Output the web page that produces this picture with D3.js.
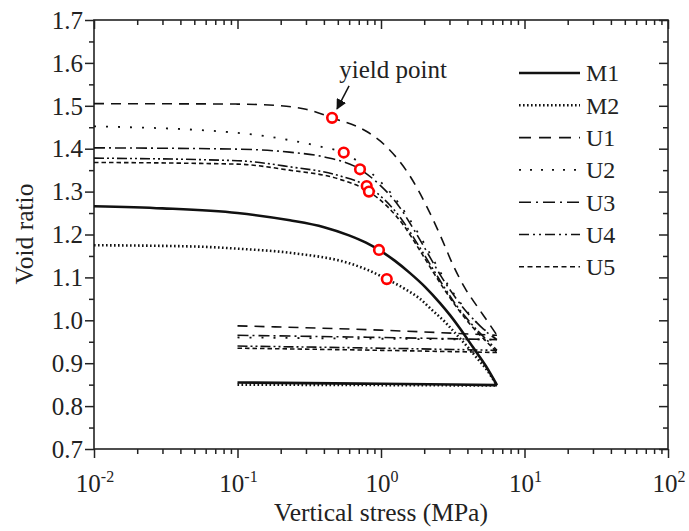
<!DOCTYPE html>
<html><head><meta charset="utf-8">
<script src="https://cdn.jsdelivr.net/npm/d3@7/dist/d3.min.js"></script>
<style>body{margin:0;background:#fff}svg{display:block}text{font-family:"Liberation Serif","Times New Roman",serif;fill:#222}</style>
</head><body><svg id="c" width="689" height="531" font-family="Liberation Serif, Times New Roman, serif"></svg>
<script>
// ---- data (stress in MPa, void ratio) ----
const M1_s = [0.01,0.03,0.1,0.232,0.401,0.598,0.786,0.968,1.252,1.593,2.026,2.578,3.026,3.552,4.377,5.391,6.43];
const M1_e = [1.266,1.261,1.25,1.233,1.217,1.198,1.181,1.164,1.1385,1.110,1.078,1.040,1.012,0.981,0.937,0.893,0.849];
const M1_us = [6.43,1,0.1];
const M1_ue = [0.849,0.852,0.855];

const M2_s = [0.01,0.05,0.1,0.25,0.6,0.8,1.097,1.470,1.870,2.267,2.793,3.332,3.911,4.666,5.479,6.43];
const M2_e = [1.175,1.172,1.167,1.156,1.133,1.118,1.096,1.073,1.050,1.024,0.996,0.968,0.942,0.912,0.884,0.848];
const M2_us = [6.43,1,0.1];
const M2_ue = [0.848,0.849,0.85];

const U1_s = [0.01,0.1,0.2,0.3,0.456,0.795,1.097,1.593,2.092,2.619,3.175,3.849,4.666,5.567,6.43];
const U1_e = [1.505,1.504,1.5,1.492,1.472,1.44,1.404,1.336,1.264,1.194,1.129,1.075,1.033,0.996,0.965];
const U1_us = [6.43,1,0.1];
const U1_ue = [0.965,0.977,0.987];

const U2_s = [0.01,0.1,0.23,0.4,0.55,0.838,1.155,1.593,2.026,2.496,3.026,3.668,4.448,5.391,6.43];
const U2_e = [1.452,1.437,1.42,1.403,1.391,1.346,1.299,1.234,1.176,1.122,1.075,1.036,1.001,0.975,0.955];
const U2_us = [6.43,1,0.1];
const U2_ue = [0.955,0.957,0.96];

const U3_s = [0.01,0.1,0.23,0.4,0.714,0.984,1.313,1.698,2.126,2.619,3.175,3.849,4.666,5.567,6.43];
const U3_e = [1.402,1.399,1.392,1.381,1.352,1.315,1.269,1.211,1.155,1.103,1.061,1.024,0.994,0.970,0.955];
const U3_us = [6.43,1,0.1];
const U3_ue = [0.955,0.96,0.965];

const U4_s = [0.01,0.1,0.23,0.5,0.795,1.066,1.401,1.782,2.231,2.748,3.332,4.039,4.897,5.749,6.43];
const U4_e = [1.378,1.372,1.358,1.338,1.313,1.280,1.234,1.180,1.127,1.078,1.036,1.001,0.970,0.947,0.930];
const U4_us = [6.43,1,0.1];
const U4_ue = [0.93,0.935,0.94];

const U5_s = [0.01,0.1,0.23,0.5,0.825,1.101,1.447,1.840,2.304,2.838,3.440,4.171,4.977,5.749,6.43];
const U5_e = [1.368,1.364,1.35,1.33,1.300,1.266,1.220,1.166,1.113,1.066,1.026,0.991,0.963,0.942,0.925];
const U5_us = [6.43,1,0.1];
const U5_ue = [0.925,0.93,0.935];

const yield_s = [0.456,0.55,0.714,0.795,0.824,0.968,1.097];
const yield_e = [1.472,1.391,1.352,1.313,1.300,1.164,1.096];

const seriesNames = ["M1","M2","U1","U2","U3","U4","U5"];
const xTickExps = [-2,-1,0,1,2];
const yTicks = [0.7,0.8,0.9,1.0,1.1,1.2,1.3,1.4,1.5,1.6,1.7];

// ---- styles ----
const styles = {
  M1:{w:2.6,dash:null},
  M2:{w:2.6,dash:"1.6,2.4"},
  U1:{w:1.6,dash:"10,7"},
  U2:{w:1.8,dash:"2,10"},
  U3:{w:1.6,dash:"11,4,2,4"},
  U4:{w:1.6,dash:"10,3,2,3,2,3"},
  U5:{w:1.6,dash:"4.5,3"}
};
const legendDash = {
  M1:null, M2:"1.6,2.4", U1:"12,8", U2:"2,9", U3:"12,5,2,5", U4:"10,4,2,4,2,4", U5:"5,3.5"
};

const svg = d3.select("#c");
const L=94,R=668,T=20,B=449;
const x = d3.scaleLog().domain([0.01,100]).range([L,R]);
const y = d3.scaleLinear().domain([0.7,1.7]).range([B,T]);

const majorX = xTickExps.map(k=>Math.pow(10,k));
const minorX = [];
for (let k=-2;k<2;k++) for (let m=2;m<=9;m++) minorX.push(m*Math.pow(10,k));
const minorY = yTicks.slice(0,-1).map(v=>+(v+0.05).toFixed(2));

const axCol="#222";
function styleAxis(g){ g.select(".domain").remove(); g.selectAll("line").attr("stroke",axCol).attr("stroke-width",1.5); g.selectAll("text").remove(); }

svg.append("g").attr("transform",`translate(0,${B})`).call(d3.axisBottom(x).tickValues(majorX).tickSize(9)).call(styleAxis);
svg.append("g").attr("transform",`translate(0,${B})`).call(d3.axisBottom(x).tickValues(minorX).tickSize(5)).call(styleAxis);
svg.append("g").attr("transform",`translate(0,${T})`).call(d3.axisTop(x).tickValues(majorX).tickSize(-9)).call(styleAxis);
svg.append("g").attr("transform",`translate(0,${T})`).call(d3.axisTop(x).tickValues(minorX).tickSize(-5)).call(styleAxis);
svg.append("g").attr("transform",`translate(${L},0)`).call(d3.axisLeft(y).tickValues(yTicks).tickSize(9)).call(styleAxis);
svg.append("g").attr("transform",`translate(${L},0)`).call(d3.axisLeft(y).tickValues(minorY).tickSize(5)).call(styleAxis);
svg.append("g").attr("transform",`translate(${R},0)`).call(d3.axisRight(y).tickValues(yTicks).tickSize(-9)).call(styleAxis);
svg.append("g").attr("transform",`translate(${R},0)`).call(d3.axisRight(y).tickValues(minorY).tickSize(-5)).call(styleAxis);

svg.append("rect").attr("x",L).attr("y",T).attr("width",R-L).attr("height",B-T)
  .attr("fill","none").attr("stroke",axCol).attr("stroke-width",1.6);

// y labels
svg.append("g").selectAll("text").data(yTicks).join("text")
  .attr("x",L-11).attr("y",d=>y(d)).attr("dy","0.35em").attr("text-anchor","end")
  .attr("font-size",25).text(d=>d3.format(".1f")(d));
// x labels
const xl = svg.append("g").selectAll("text").data(xTickExps).join("text")
  .attr("x",d=>x(Math.pow(10,d))+1).attr("y",B+43).attr("text-anchor","middle").attr("font-size",25);
xl.append("tspan").text("10");
xl.append("tspan").attr("dy",-10).attr("font-size",16).text(d=>d);

svg.append("text").attr("x",(L+R)/2+0).attr("y",521).attr("text-anchor","middle").attr("font-size",25.5).text("Vertical stress (MPa)");
svg.append("text").attr("transform",`translate(33,234) rotate(-90)`).attr("text-anchor","middle").attr("font-size",25.5).text("Void ratio");

// curves
const line = d3.line().x(d=>x(d[0])).y(d=>y(d[1])).curve(d3.curveMonotoneX);
const data = {
  M1:[M1_s,M1_e,M1_us,M1_ue], M2:[M2_s,M2_e,M2_us,M2_ue],
  U1:[U1_s,U1_e,U1_us,U1_ue], U2:[U2_s,U2_e,U2_us,U2_ue],
  U3:[U3_s,U3_e,U3_us,U3_ue], U4:[U4_s,U4_e,U4_us,U4_ue], U5:[U5_s,U5_e,U5_us,U5_ue]
};
const cg = svg.append("g");
seriesNames.slice().reverse().forEach(n=>{
  const [s,e,us,ue]=data[n];
  const load = s.map((v,i)=>[v,e[i]]);
  const unl = us.map((v,i)=>[v,ue[i]]).reverse();
  [load,unl].forEach(pts=>{
    cg.append("path").attr("d",line(pts)).attr("fill","none").attr("stroke","#111")
      .attr("stroke-width",styles[n].w).attr("stroke-dasharray",styles[n].dash)
      .attr("stroke-linejoin","round");
  });
});

// yield points
svg.append("g").selectAll("circle").data(yield_s.map((v,i)=>[v,yield_e[i]])).join("circle")
  .attr("cx",d=>x(d[0])).attr("cy",d=>y(d[1])).attr("r",4.8)
  .attr("fill","#fff").attr("stroke","#f00").attr("stroke-width",2.6);

// annotation
svg.append("defs").append("marker").attr("id","ah").attr("viewBox","0 0 10 10").attr("refX",9).attr("refY",5)
  .attr("markerWidth",7).attr("markerHeight",7).attr("orient","auto")
  .append("path").attr("d","M0,0L10,5L0,10z").attr("fill","#111");
const yp=[x(yield_s[0]),y(yield_e[0])];
svg.append("line").attr("x1",yp[0]+17).attr("y1",yp[1]-32).attr("x2",yp[0]+5).attr("y2",yp[1]-9)
  .attr("stroke","#111").attr("stroke-width",1.5).attr("marker-end","url(#ah)");
svg.append("text").attr("x",yp[0]+61).attr("y",yp[1]-40).attr("text-anchor","middle").attr("font-size",25).text("yield point");

// legend
const lg = svg.append("g");
seriesNames.forEach((n,i)=>{
  const ly = 73 + i*32.3;
  lg.append("line").attr("x1",519).attr("x2",580).attr("y1",ly).attr("y2",ly)
    .attr("stroke","#111").attr("stroke-width",n==="M1"?2.6:(n==="M2"?2.4:1.6))
    .attr("stroke-dasharray",legendDash[n]);
  lg.append("text").attr("x",586).attr("y",ly).attr("dy","0.35em").attr("font-size",24).text(n);
});
</script></body></html>
